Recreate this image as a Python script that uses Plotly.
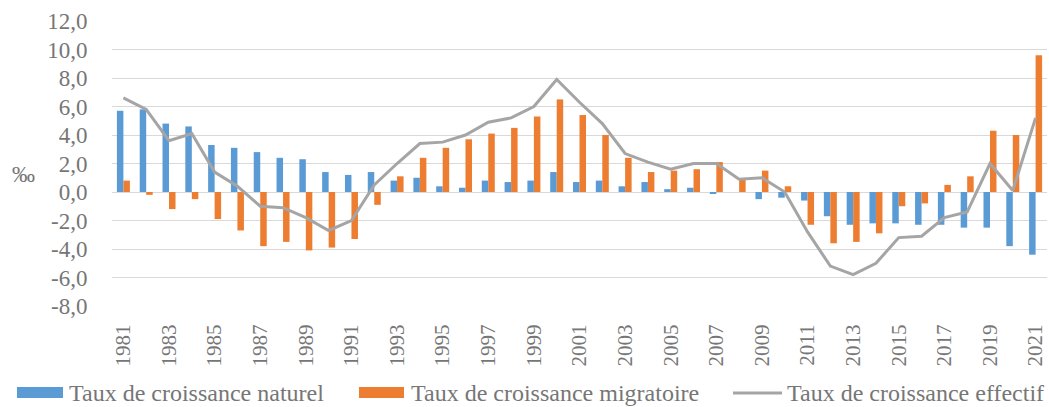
import plotly.graph_objects as go

years = [str(y) for y in range(1981, 2022)]
naturel = [5.7, 5.8, 4.8, 4.6, 3.3, 3.1, 2.8, 2.4, 2.3, 1.4,
           1.2, 1.4, 0.8, 1.0, 0.4, 0.3, 0.8, 0.7, 0.8, 1.4,
           0.7, 0.8, 0.4, 0.7, 0.2, 0.3, -0.1, 0.0, -0.5, -0.4,
           -0.6, -1.7, -2.3, -2.2, -2.2, -2.3, -2.3, -2.5, -2.5, -3.8,
           -4.4]
migratoire = [0.8, -0.2, -1.2, -0.5, -1.9, -2.7, -3.8, -3.5, -4.1, -3.9,
              -3.3, -0.9, 1.1, 2.4, 3.1, 3.7, 4.1, 4.5, 5.3, 6.5,
              5.4, 4.0, 2.4, 1.4, 1.5, 1.6, 2.1, 0.9, 1.5, 0.4,
              -2.3, -3.6, -3.5, -2.9, -1.0, -0.8, 0.5, 1.1, 4.3, 4.0,
              9.6]
effectif = [6.6, 5.8, 3.6, 4.1, 1.4, 0.4, -1.0, -1.1, -1.8, -2.7,
            -2.0, 0.5, 2.0, 3.4, 3.5, 4.0, 4.9, 5.2, 6.0, 7.9,
            6.3, 4.8, 2.7, 2.1, 1.6, 2.0, 2.0, 0.9, 1.0, 0.0,
            -2.8, -5.2, -5.8, -5.0, -3.2, -3.1, -1.8, -1.4, 2.0, 0.1,
            5.2]

series_names = ["Taux de croissance naturel", "Taux de croissance migratoire",
                "Taux de croissance effectif"]
colors = ["#5B9BD5", "#ED7D31", "#A5A5A5"]

y_tickvals = [12, 10, 8, 6, 4, 2, 0, -2, -4, -6, -8]
y_ticktext = ["12,0", "10,0", "8,0", "6,0", "4,0", "2,0", "0,0",
              "-2,0", "-4,0", "-6,0", "-8,0"]
x_tickvals = years[::2]

FONT = "Liberation Serif"
TXT = "#767676"

fig = go.Figure()
fig.add_trace(go.Bar(x=years, y=naturel, name=series_names[0],
                     marker=dict(color=colors[0], line=dict(width=0)),
                     showlegend=False))
fig.add_trace(go.Bar(x=years, y=migratoire, name=series_names[1],
                     marker=dict(color=colors[1], line=dict(width=0)),
                     showlegend=False))
fig.add_trace(go.Scatter(x=years, y=effectif, name=series_names[2],
                         mode="lines", line=dict(color=colors[2], width=3),
                         showlegend=False))

W, H = 1049, 407
L, R, T, B = 112, 2, 21, 101
pw, ph = W - L - R, H - T - B


def px(xp):
    return (xp - L) / pw


def py(yp):
    return (H - B - yp) / ph


shapes = []
annotations = []
# legend drawn below the plot
leg_y = 393
items = [
    (17, 63, 68, "bar"),
    (359, 404, 410, "bar"),
    (733, 782, 786, "line"),
]
for (x0, x1, tx, kind), name, col in zip(items, series_names, colors):
    if kind == "bar":
        shapes.append(dict(type="rect", xref="paper", yref="paper",
                           x0=px(x0), x1=px(x1), y0=py(leg_y + 5), y1=py(leg_y - 6),
                           fillcolor=col, line=dict(width=0)))
    else:
        shapes.append(dict(type="line", xref="paper", yref="paper",
                           x0=px(x0), x1=px(x1), y0=py(leg_y), y1=py(leg_y),
                           line=dict(color=col, width=3)))
    annotations.append(dict(text=name, xref="paper", yref="paper",
                            x=px(tx), y=py(leg_y), xanchor="left", yanchor="middle",
                            showarrow=False, borderpad=0,
                            font=dict(family=FONT, size=24, color=TXT)))

annotations.append(dict(text="‰", xref="paper", yref="paper",
                        x=px(23), y=py(174), xanchor="center", yanchor="middle",
                        showarrow=False, font=dict(family=FONT, size=23, color=TXT)))

fig.update_layout(
    width=W, height=H,
    margin=dict(l=L, r=R, t=T, b=B, pad=0, autoexpand=False),
    paper_bgcolor="white", plot_bgcolor="white",
    barmode="group", bargap=0.43, bargroupgap=0,
    font=dict(family=FONT, color=TXT),
    shapes=shapes, annotations=annotations,
    showlegend=False,
)
fig.update_xaxes(type="category", tickmode="array", tickvals=x_tickvals,
                 ticktext=x_tickvals, tickangle=-90, automargin=False,
                 tickfont=dict(family=FONT, size=21, color=TXT),
                 showgrid=False, zeroline=False, showline=False,
                 ticks="outside", ticklen=9, tickcolor="rgba(0,0,0,0)",
                 range=[-0.5, len(years) - 0.5])
fig.update_yaxes(range=[-8, 12], tickmode="array", tickvals=y_tickvals,
                 ticktext=y_ticktext, automargin=False,
                 tickfont=dict(family=FONT, size=23, color=TXT),
                 showgrid=True, gridcolor="#d9d9d9", gridwidth=1.3,
                 zeroline=True, zerolinecolor="#d9d9d9", zerolinewidth=1.3,
                 showline=False, ticks="outside", ticklen=19,
                 tickcolor="rgba(0,0,0,0)")

fig.write_html("out.html", config={"displayModeBar": False},
               post_script="document.body.style.margin='0';document.body.style.overflow='hidden';")
